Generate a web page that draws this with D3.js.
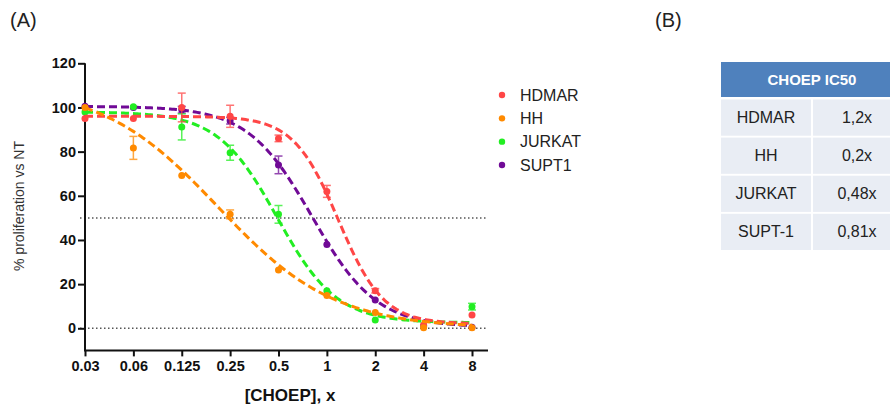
<!DOCTYPE html>
<html>
<head>
<meta charset="utf-8">
<script src="https://cdn.jsdelivr.net/npm/d3@7"></script>
<style>
  body { margin: 0; background: #fff; }
  text { font-family: "Liberation Sans", Arial, sans-serif; }
</style>
</head>
<body>
<svg id="chart" width="890" height="410"></svg>
<script>
// doses on the x axis
const doses = [1 / 32, 1 / 16, 0.125, 0.25, 0.5, 1, 2, 4, 8];
const doseLabels = ["0.03", "0.06", "0.125", "0.25", "0.5", "1", "2", "4", "8"];
const yTicks = [0, 20, 40, 60, 80, 100, 120];

const seriesNames = ["HDMAR", "HH", "JURKAT", "SUPT1"];
const seriesColors = ["#ff4646", "#ff8a00", "#22ee22", "#700a96"];

// mean % proliferation and error per dose
const hdmarMean = [95, 95, 100, 96, 86, 62, 17, 1.5, 6];
const hdmarErr = [0, 0, 6.5, 5, 1.5, 2.7, 1, 0, 0];
const hhMean = [100, 81.7, 69.2, 51.6, 26.4, 14.8, 7.2, 0.3, 0.3];
const hhErr = [0, 5.2, 0, 2, 0, 0, 0, 0, 0];
const jurkatMean = [98, 100.3, 91.2, 79.5, 51.6, 17, 3.8, 1, 9.8];
const jurkatErr = [0, 0, 5.9, 3.4, 4, 0, 0, 0, 1.5];
const supt1Mean = [100.5, 100, 99, 94, 74, 38, 12.8, 1, 0.5];
const supt1Err = [0, 0, 1.5, 1.5, 4, 0, 0, 0, 0];

// fitted dose-response curves (top, bottom, IC50, hill)
const fitTop = [96, 110, 98, 100.5];
const fitBottom = [2, 0, 2.5, 0.5];
const fitIC50 = [1.18, 0.21, 0.49, 0.81];
const fitHill = [3.1, 1.2, 2.35, 2.17];

// IC50 table
const tableTitle = "CHOEP IC50";
const tableRows = ["HDMAR", "HH", "JURKAT", "SUPT-1"];
const tableValues = ["1,2x", "0,2x", "0,48x", "0,81x"];

const means = [hdmarMean, hhMean, jurkatMean, supt1Mean];
const errs = [hdmarErr, hhErr, jurkatErr, supt1Err];

const svg = d3.select("#chart");

const x = d3.scaleLog().base(2).domain([1 / 32, 8]).range([85, 472]);
const y = d3.scaleLinear().domain([0, 120]).range([328.3, 63.3]);
const xAxisY = y(-10);
const xEnd = 488;

svg.append("text").attr("x", 10).attr("y", 27).attr("font-size", 20).attr("fill", "#222").text("(A)");
svg.append("text").attr("x", 655).attr("y", 27).attr("font-size", 20).attr("fill", "#222").text("(B)");

// dotted reference lines at 0 and 50
svg.selectAll("line.ref")
  .data([0, 50])
  .enter()
  .append("line")
  .attr("class", "ref")
  .attr("x1", 80)
  .attr("x2", xEnd)
  .attr("y1", (d) => y(d))
  .attr("y2", (d) => y(d))
  .attr("stroke", "#555")
  .attr("stroke-width", 1.5)
  .attr("stroke-dasharray", "1.5,2.5");

// axes
const gX = svg.append("g")
  .attr("transform", "translate(0," + xAxisY + ")")
  .call(d3.axisBottom(x).tickValues(doses).tickFormat((d, i) => doseLabels[i]).tickSize(6).tickPadding(4));
gX.select(".domain").remove();
gX.append("line").attr("x1", 85).attr("x2", xEnd).attr("stroke", "#111").attr("stroke-width", 2);

const gY = svg.append("g")
  .attr("transform", "translate(85,0)")
  .call(d3.axisLeft(y).tickValues(yTicks).tickSize(7).tickPadding(2));
gY.select(".domain").remove();
gY.append("line").attr("y1", y(120)).attr("y2", xAxisY + 1).attr("stroke", "#111").attr("stroke-width", 2);

[gX, gY].forEach((g) => {
  g.selectAll(".tick line").attr("stroke", "#111").attr("stroke-width", 2);
  g.selectAll(".tick text")
    .attr("fill", "#111")
    .attr("font-size", 14.5)
    .attr("font-weight", "bold")
    .attr("font-family", "Liberation Sans, Arial, sans-serif");
});

svg.append("text")
  .attr("x", 290).attr("y", 401)
  .attr("text-anchor", "middle")
  .attr("font-size", 17).attr("font-weight", "bold").attr("fill", "#111")
  .text("[CHOEP], x");

svg.append("text")
  .attr("transform", "translate(24,206) rotate(-90)")
  .attr("text-anchor", "middle")
  .attr("font-size", 14).attr("fill", "#333")
  .text("% proliferation vs NT");

// series
const curveX = d3.range(0, 201).map((i) => x.invert(85 + (472 - 85) * i / 200));
const line = d3.line().x((d) => x(d[0])).y((d) => y(d[1]));
const drawOrder = [3, 2, 0, 1];

drawOrder.forEach((s) => {
  const color = seriesColors[s];
  const g = svg.append("g");
  const pts = doses.map((d, i) => ({ dose: d, v: means[s][i], e: errs[s][i] }));

  const bars = g.selectAll("g.err").data(pts.filter((p) => p.e > 0)).enter().append("g")
    .attr("stroke", color).attr("stroke-width", 1.5).attr("opacity", 0.75);
  bars.append("line")
    .attr("x1", (p) => x(p.dose)).attr("x2", (p) => x(p.dose))
    .attr("y1", (p) => y(p.v - p.e)).attr("y2", (p) => y(p.v + p.e));
  [1, -1].forEach((sgn) => {
    bars.append("line")
      .attr("x1", (p) => x(p.dose) - 4).attr("x2", (p) => x(p.dose) + 4)
      .attr("y1", (p) => y(p.v + sgn * p.e)).attr("y2", (p) => y(p.v + sgn * p.e));
  });

  const fit = curveX.map((c) => [c, fitBottom[s] + (fitTop[s] - fitBottom[s]) / (1 + Math.pow(c / fitIC50[s], fitHill[s]))]);
  g.append("path")
    .attr("d", line(fit))
    .attr("fill", "none")
    .attr("stroke", color)
    .attr("stroke-width", 3)
    .attr("stroke-dasharray", "8,4");

  g.selectAll("circle").data(pts).enter().append("circle")
    .attr("cx", (p) => x(p.dose)).attr("cy", (p) => y(p.v))
    .attr("r", 3.5).attr("fill", color);
});

// legend
const legend = svg.append("g");
const ly = d3.scalePoint().domain(seriesNames).range([95, 165]);
legend.selectAll("circle").data(seriesNames).enter().append("circle")
  .attr("cx", 502).attr("cy", (d) => ly(d)).attr("r", 3.2)
  .attr("fill", (d, i) => seriesColors[i]);
legend.selectAll("text").data(seriesNames).enter().append("text")
  .attr("x", 520).attr("y", (d) => ly(d) + 5.7)
  .attr("font-size", 16).attr("fill", "#222")
  .text((d) => d);

// table
const table = svg.append("g");
const tx0 = 721, colW = 90, gap = 2;
table.append("rect").attr("x", tx0).attr("y", 62).attr("width", 2 * colW + gap).attr("height", 35).attr("fill", "#4f81bd");
table.append("text")
  .attr("x", tx0 + colW + 1).attr("y", 85)
  .attr("text-anchor", "middle").attr("font-size", 15).attr("font-weight", "bold").attr("fill", "#fff")
  .attr("font-family", "Lato, sans-serif")
  .text(tableTitle);

const ry = d3.scaleBand().domain(tableRows).range([99.5, 250]).paddingInner(0.05);
const rows = table.selectAll("g.row").data(tableRows).enter().append("g");
rows.append("rect").attr("x", tx0).attr("y", (d) => ry(d)).attr("width", colW).attr("height", ry.bandwidth()).attr("fill", "#e9edf4");
rows.append("rect").attr("x", tx0 + colW + gap).attr("y", (d) => ry(d)).attr("width", colW).attr("height", ry.bandwidth()).attr("fill", "#e9edf4");
rows.append("text")
  .attr("x", tx0 + colW / 2).attr("y", (d) => ry(d) + ry.bandwidth() / 2 + 5.5)
  .attr("text-anchor", "middle").attr("font-size", 16).attr("fill", "#222")
  .attr("font-family", "Lato, sans-serif")
  .text((d) => d);
rows.append("text")
  .attr("x", tx0 + colW + gap + colW / 2 - 1).attr("y", (d) => ry(d) + ry.bandwidth() / 2 + 5.5)
  .attr("text-anchor", "middle").attr("font-size", 16).attr("fill", "#222")
  .attr("font-family", "Lato, sans-serif")
  .text((d, i) => tableValues[i]);
</script>
</body>
</html>
